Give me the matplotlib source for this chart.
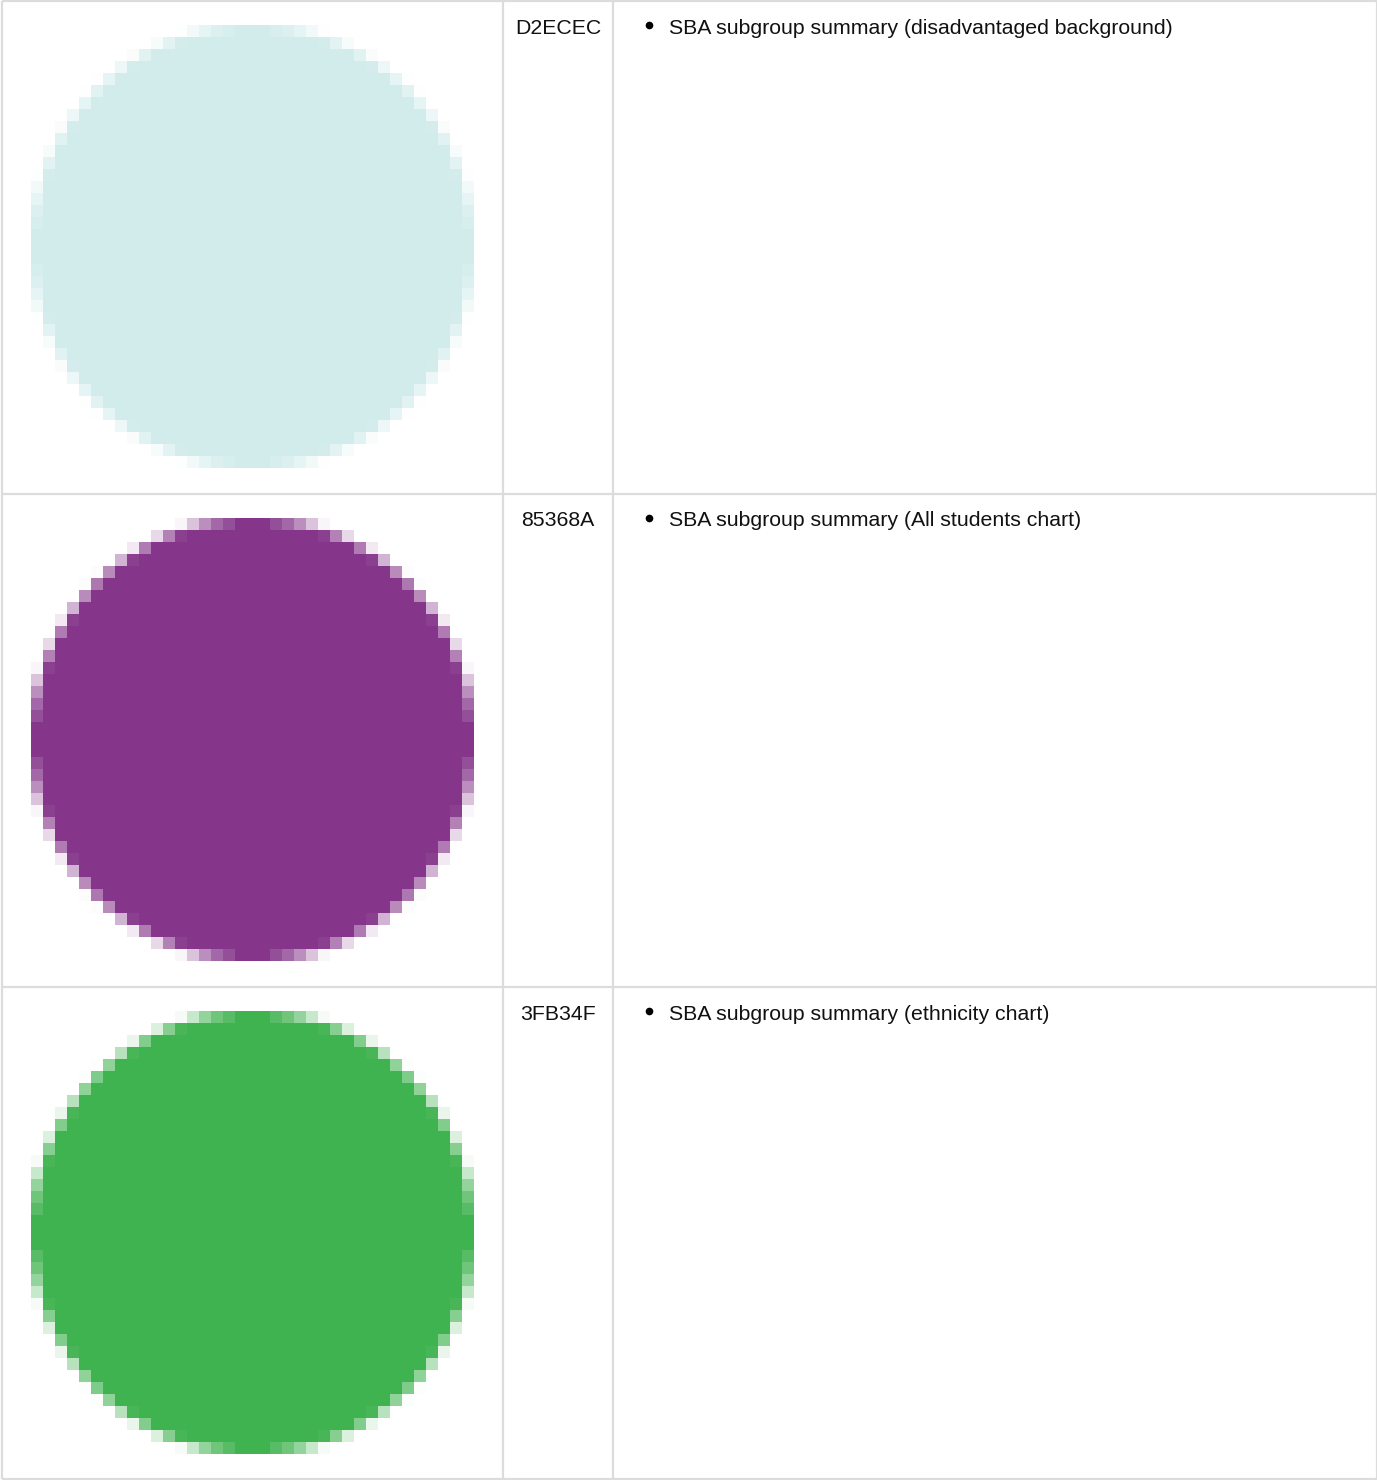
import numpy as np
import matplotlib
matplotlib.use("Agg")
import matplotlib.pyplot as plt
from matplotlib.colors import to_rgb

hex_codes = ["D2ECEC", "85368A", "3FB34F"]
descriptions = [
    "SBA subgroup summary (disadvantaged background)",
    "SBA subgroup summary (All students chart)",
    "SBA subgroup summary (ethnicity chart)",
]

W, H = 1377, 1480
fig = plt.figure(figsize=(W / 100, H / 100), dpi=100)
ax = fig.add_axes([0, 0, 1, 1])
ax.set_xlim(0, W)
ax.set_ylim(H, 0)
ax.axis("off")

line_c = "#dcdcdc"
lw = 1.6
row_edges = [1, 493.5, 987, 1479]
col_edges = [2, 503, 613, 1377]

for y in row_edges:
    ax.plot([col_edges[0], col_edges[-1]], [y, y], color=line_c, lw=lw, solid_capstyle="butt")
for x in col_edges:
    ax.plot([x, x], [row_edges[0], row_edges[-1]], color=line_c, lw=lw, solid_capstyle="butt")

# pixelated circle mask
N = 37
ss = 8
g = (np.arange(N * ss) + 0.5) / (N * ss) * 2 - 1
XX, YY = np.meshgrid(g, g)
inside = (XX ** 2 + YY ** 2 <= 1.0).astype(float)
cov = inside.reshape(N, ss, N, ss).mean(axis=(1, 3))

for i, (code, desc) in enumerate(zip(hex_codes, descriptions)):
    top = row_edges[i]
    cy = top + 246
    cx = 252.5
    r = 221.5
    rgb = np.array(to_rgb("#" + code))
    img = np.ones((N, N, 4))
    img[..., :3] = rgb
    img[..., 3] = cov
    ax.imshow(img, extent=(cx - r, cx + r, cy + r, cy - r), interpolation="nearest", zorder=2)
    ty = top + 27.5
    ax.text((col_edges[1] + col_edges[2]) / 2, ty, code, ha="center", va="center",
            fontsize=15.35, family="Liberation Sans", color="#111111")
    ax.plot([648.5], [top + 24], marker="o", ms=5.5, color="black", mec="none")
    ax.text(669, ty, desc, ha="left", va="center", fontsize=15.35,
            family="Liberation Sans", color="#111111")

ax.set_xlim(0, W)
ax.set_ylim(H, 0)
fig.savefig("out.png", dpi=100)
